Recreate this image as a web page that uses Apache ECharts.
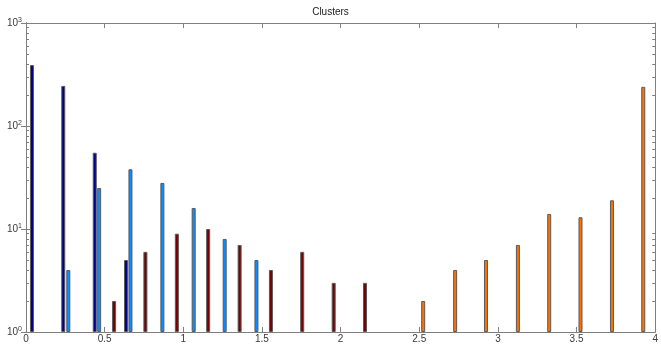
<!DOCTYPE html>
<html>
<head>
<meta charset="utf-8">
<script src="https://cdn.jsdelivr.net/npm/echarts@6/dist/echarts.min.js"></script>
<style>
  html, body { margin: 0; padding: 0; background: #fff; }
  #chart { width: 661px; height: 344px; }
</style>
</head>
<body>
<div id="chart"></div>
<script>
// each cluster: bin positions (x) and counts (y)
const navyX = [0.038, 0.237, 0.437, 0.636];
const navyY = [390, 245, 55, 5];
const blueX = [0.269, 0.465, 0.664, 0.867, 1.066, 1.263, 1.465];
const blueY = [4, 25, 38, 28, 16, 8, 5];
const redX = [0.560, 0.759, 0.959, 1.158, 1.358, 1.557, 1.756, 1.956, 2.155];
const redY = [2, 6, 9, 10, 7, 4, 6, 3, 3];
const orangeX = [2.525, 2.728, 2.924, 3.127, 3.326, 3.525, 3.725, 3.924];
const orangeY = [2, 4, 5, 7, 14, 13, 19, 240];

const xTicks = [0, 0.5, 1, 1.5, 2, 2.5, 3, 3.5, 4];
const yMajor = [1, 10, 100, 1000];
const yMinor = [2, 3, 4, 5, 6, 7, 8, 9, 20, 30, 40, 50, 60, 70, 80, 90, 200, 300, 400, 500, 600, 700, 800, 900];

const AXIS_COLOR = '#7f7f7f';
const TEXT_COLOR = '#3a3a3a';
const FONT = 'Liberation Sans';

const zip = (xs, ys) => xs.map((x, i) => [x, ys[i]]);

function barSeries(name, xs, ys, color) {
    return {
        name: name,
        type: 'bar',
        data: zip(xs, ys),
        barWidth: 4,
        barGap: '-100%',
        itemStyle: {color: color, borderColor: '#5a5a5a', borderWidth: 1},
        silent: true,
    };
}

function logAxis(position, showLabel, ticks, tickLen) {
    return {
        type: 'log',
        logBase: 10,
        min: 1,
        max: 1000,
        position: position,
        axisLine: {show: true, lineStyle: {color: AXIS_COLOR, width: 1}},
        axisTick: {
            show: true, inside: true, length: tickLen,
            customValues: ticks,
            lineStyle: {color: AXIS_COLOR},
        },
        axisLabel: {
            show: showLabel,
            customValues: showLabel ? yMajor : undefined,
            margin: 4,
            color: TEXT_COLOR,
            fontFamily: FONT,
            fontSize: 10,
            formatter: (v) => '10{sup|' + Math.round(Math.log10(v)) + '}',
            rich: {
                sup: {fontSize: 7, verticalAlign: 'top', padding: [0, 0, 6, 0], color: TEXT_COLOR, fontFamily: FONT},
            },
        },
        splitLine: {show: false},
        minorTick: {show: false},
    };
}

function valueXAxis(position, showLabel) {
    return {
        type: 'value',
        min: 0,
        max: 4,
        interval: 0.5,
        position: position,
        axisLine: {show: true, onZero: false, lineStyle: {color: AXIS_COLOR, width: 1}},
        axisTick: {show: true, inside: true, length: 5, lineStyle: {color: AXIS_COLOR}},
        axisLabel: {
            show: showLabel,
            margin: 2,
            color: TEXT_COLOR,
            fontFamily: FONT,
            fontSize: 10,
            showMinLabel: true,
            showMaxLabel: true,
        },
        splitLine: {show: false},
    };
}

const chart = echarts.init(document.getElementById('chart'), null, {renderer: 'canvas'});
chart.setOption({
    animation: false,
    backgroundColor: '#ffffff',
    title: {
        text: 'Clusters',
        left: 'center',
        top: 2,
        textStyle: {fontFamily: FONT, fontSize: 10, fontWeight: 'normal', color: '#222'},
    },
    grid: {left: 26, right: 2, top: 23, bottom: 12, containLabel: false},
    xAxis: [
        valueXAxis('bottom', true),
        valueXAxis('top', false),
    ],
    yAxis: [
        logAxis('left', true, yMajor, 5),
        logAxis('right', false, yMajor, 5),
        logAxis('left', false, yMinor, 3),
        logAxis('right', false, yMinor, 3),
    ],
    series: [
        barSeries('c1', navyX, navyY, '#000090'),
        barSeries('c2', blueX, blueY, '#0a8cff'),
        barSeries('c3', redX, redY, '#780000'),
        barSeries('c4', orangeX, orangeY, '#ff7000'),
    ],
});
</script>
</body>
</html>
